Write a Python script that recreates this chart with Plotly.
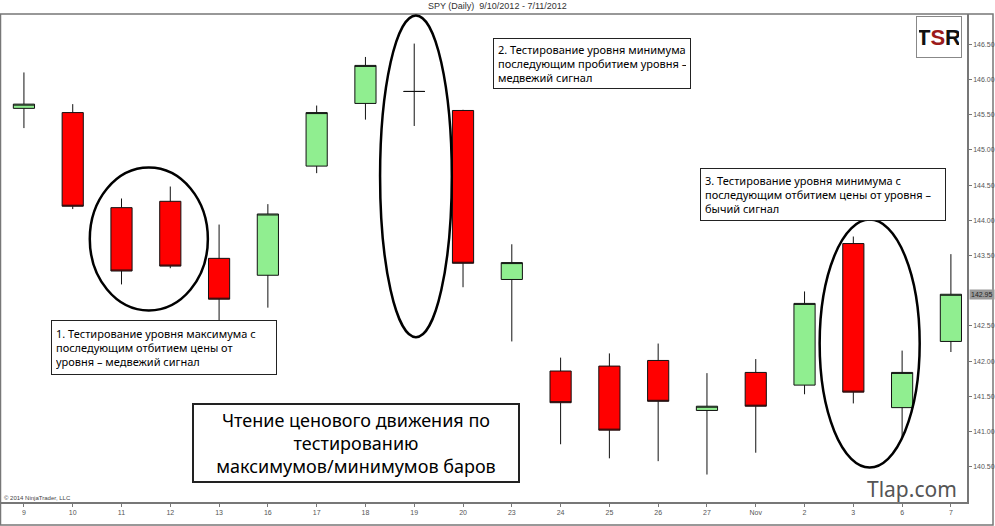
import plotly.graph_objects as go

# ---- data ----
dates = ['9', '10', '11', '12', '13', '16', '17', '18', '19', '20',
         '23', '24', '25', '26', '27', 'Nov', '2', '3', '6', '7']
opens = [145.59, 145.53, 144.18, 144.27, 143.46, 143.22, 144.77, 145.66, 145.83, 145.56,
         143.16, 141.86, 141.93, 142.01, 141.30, 141.84, 141.66, 143.67, 141.34, 142.28]
highs = [146.10, 145.65, 144.31, 144.48, 143.94, 144.23, 145.63, 146.32, 146.51, 145.57,
         143.66, 142.05, 142.11, 142.25, 141.83, 142.03, 142.99, 143.77, 142.15, 143.52]
lows = [145.31, 144.16, 143.09, 143.32, 142.58, 142.76, 144.67, 145.43, 145.34, 143.05,
        142.28, 140.82, 140.62, 140.58, 140.39, 140.70, 141.53, 141.40, 140.92, 142.13]
closes = [145.65, 144.20, 143.28, 143.35, 142.88, 144.09, 145.53, 146.20, 145.83, 143.39,
          143.40, 141.41, 141.02, 141.43, 141.36, 141.36, 142.82, 141.56, 141.84, 142.95]
# 143.00 is hidden behind the last-price marker in the original
y_ticks = [140.5, 141.0, 141.5, 142.0, 142.5, 143.5, 144.0, 144.5, 145.0, 145.5, 146.0, 146.5]
y_tick_labels = [f"{v:.2f}" for v in y_ticks]

title_text = "SPY (Daily)  9/10/2012 - 7/11/2012"
note1 = "1. Тестирование уровня максимума с<br>последующим отбитием цены от<br>уровня – медвежий сигнал"
note2 = "2. Тестирование уровня минимума с<br>последующим пробитием уровня –<br>медвежий сигнал"
note3 = "3. Тестирование уровня минимума с<br>последующим отбитием цены от уровня –<br>бычий сигнал"
main_note = "Чтение ценового движения по<br>тестированию<br>максимумов/минимумов баров"

# ---- layout geometry ----
W, H = 995, 526
ML, MR, MT, MB = 1, 28, 14, 24
PW, PH = W - ML - MR, H - MT - MB


def px(x):
    return (x - ML) / PW


def py(y):
    return (H - MB - y) / PH


fig = go.Figure()
fig.add_trace(go.Candlestick(
    x=dates, open=opens, high=highs, low=lows, close=closes,
    increasing=dict(line=dict(color='#111111', width=1), fillcolor='#90EE90'),
    decreasing=dict(line=dict(color='#111111', width=1), fillcolor='#FF0000'),
    whiskerwidth=0, showlegend=False, hoverinfo='skip'))

note_font = dict(family='Noto Sans', size=11, color='black')
annotations = [
    dict(text=title_text, xref='paper', yref='paper', x=px(497), y=py(6),
         xanchor='center', yanchor='middle', showarrow=False,
         font=dict(family='Arial, Liberation Sans', size=9, color='#333333')),
    dict(text=note1, xref='paper', yref='paper', x=px(51), y=py(320),
         xanchor='left', yanchor='top', align='left', showarrow=False,
         font=note_font, bgcolor='white', bordercolor='#222222', borderwidth=1,
         borderpad=4, width=216, height=45, valign='middle'),
    dict(text=note2, xref='paper', yref='paper', x=px(493), y=py(38),
         xanchor='left', yanchor='top', align='left', showarrow=False,
         font=note_font, bgcolor='white', bordercolor='#222222', borderwidth=1,
         borderpad=4, width=188, height=41, valign='middle'),
    dict(text=note3, xref='paper', yref='paper', x=px(700), y=py(168),
         xanchor='left', yanchor='top', align='left', showarrow=False,
         font=note_font, bgcolor='white', bordercolor='#222222', borderwidth=1,
         borderpad=4, width=236, height=43, valign='middle'),
    dict(text=main_note, xref='paper', yref='paper', x=px(192), y=py(403),
         xanchor='left', yanchor='top', align='center', showarrow=False,
         font=dict(family='Noto Sans', size=18, color='black'), bgcolor='white',
         bordercolor='#222222', borderwidth=2, borderpad=4, width=316, height=68,
         valign='middle'),
    dict(text="<b>T<span style='color:#9b1b1b'>S</span>R</b>", xref='paper', yref='paper',
         x=px(916), y=py(16), xanchor='left', yanchor='top', showarrow=False,
         font=dict(family='Liberation Sans Narrow, Arial', size=22, color='#111111'),
         bgcolor='white', bordercolor='#888888', borderwidth=1, borderpad=2,
         width=40, height=36),
    dict(text="Tlap.com", xref='paper', yref='paper', x=px(912), y=py(489),
         xanchor='center', yanchor='middle', showarrow=False,
         font=dict(family='Noto Sans', size=21, color='#555555')),
    dict(text="© 2014 NinjaTrader, LLC", xref='paper', yref='paper', x=px(2), y=py(498),
         xanchor='left', yanchor='middle', showarrow=False,
         font=dict(family='Arial, Liberation Sans', size=6, color='#444444')),
    dict(text=f"{closes[-1]:.2f}", xref='paper', yref='y', x=1.0, y=closes[-1],
         xanchor='left', yanchor='middle', showarrow=False,
         font=dict(family='Arial, Liberation Sans', size=7, color='#222222'),
         bgcolor='#9a9a9a', borderpad=1, xshift=2),
]

shapes = [
    # outer frame
    dict(type='rect', xref='paper', yref='paper', x0=px(0.5), x1=px(993), y0=py(525), y1=py(14),
         line=dict(color='#777777', width=1.5), layer='below'),
    # ellipses
    dict(type='circle', xref='x', yref='y', x0=1.35, x1=3.77, y0=142.72, y1=144.75,
         line=dict(color='black', width=2.5)),
    dict(type='circle', xref='x', yref='y', x0=7.30, x1=8.77, y0=142.34, y1=146.91,
         line=dict(color='black', width=2.5)),
    dict(type='circle', xref='x', yref='y', x0=16.31, x1=18.36, y0=140.49, y1=144.01,
         line=dict(color='black', width=2.5)),
]

fig.update_layout(
    width=W, height=H,
    margin=dict(l=ML, r=MR, t=MT, b=MB),
    paper_bgcolor='white', plot_bgcolor='white',
    boxgap=0.38,
    annotations=annotations, shapes=shapes,
    xaxis=dict(type='category', range=[-0.47, 19.33], rangeslider=dict(visible=False),
               showgrid=False, zeroline=False, showline=True, linecolor='#777777', linewidth=1.5,
               ticks='outside', ticklen=3, tickcolor='#777777',
               tickfont=dict(family='Arial, Liberation Sans', size=7, color='#555555')),
    yaxis=dict(side='right', range=[140.0, 146.93], tickvals=y_ticks, ticktext=y_tick_labels,
               showgrid=False, zeroline=False, showline=True, linecolor='#777777', linewidth=1.5,
               ticks='outside', ticklen=3, tickcolor='#777777',
               tickfont=dict(family='Arial, Liberation Sans', size=7, color='#555555')),
)

fig.write_html("out.html")
